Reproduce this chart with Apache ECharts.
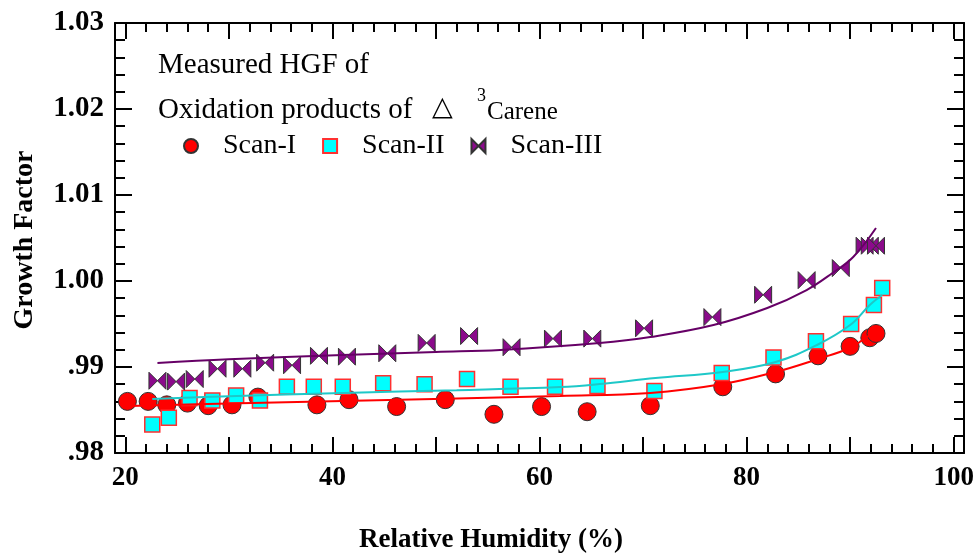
<!DOCTYPE html>
<html>
<head>
<meta charset="utf-8">
<script src="https://cdn.jsdelivr.net/npm/echarts@6/dist/echarts.min.js"></script>
<style>
html,body{margin:0;padding:0;background:#fff;}
#chart{width:978px;height:555px;}
</style>
</head>
<body>
<div id="chart"></div>
<script>
// ---- data ----
var scan1RH = [20.2, 22.2, 24.0, 26.0, 28.0, 30.3, 32.8, 38.5, 41.6, 46.2, 50.9, 55.6, 60.2, 64.6, 70.7, 77.7, 82.8, 86.9, 90.0, 91.9, 92.5];
var scan1GF = [0.9860, 0.9860, 0.9856, 0.9858, 0.9855, 0.9856, 0.9865, 0.9856, 0.9862, 0.9854, 0.9862, 0.9845, 0.9854, 0.9848, 0.9855, 0.9877, 0.9892, 0.9913, 0.9924, 0.9934, 0.9939];

var scan2RH = [22.6, 24.2, 26.2, 28.4, 30.7, 33.0, 35.6, 38.2, 41.0, 44.9, 48.9, 53.0, 57.2, 61.5, 65.6, 71.1, 77.6, 82.6, 86.7, 90.1, 92.3, 93.1];
var scan2GF = [0.9833, 0.9841, 0.9864, 0.9861, 0.9867, 0.9861, 0.9877, 0.9877, 0.9877, 0.9881, 0.9880, 0.9886, 0.9877, 0.9877, 0.9878, 0.9872, 0.9893, 0.9911, 0.9930, 0.9950, 0.9972, 0.9992];

var scan3RH = [23.1, 24.9, 26.7, 28.9, 31.3, 33.5, 36.1, 38.7, 41.4, 45.3, 49.1, 53.2, 57.3, 61.3, 65.1, 70.1, 76.7, 81.6, 85.8, 89.1, 91.4, 91.9, 92.5];
var scan3GF = [0.9884, 0.9883, 0.9886, 0.9898, 0.9898, 0.9905, 0.9902, 0.9913, 0.9912, 0.9916, 0.9928, 0.9936, 0.9923, 0.9933, 0.9933, 0.9945, 0.9958, 0.9984, 1.0001, 1.0015, 1.0041, 1.0041, 1.0041];

// fitted curves
var fit1RH = [20.4, 30.0, 41.0, 52.0, 62.0, 70.7, 77.7, 82.8, 86.9, 90.0, 91.2, 91.9];
var fit1GF = [0.98547, 0.98575, 0.98605, 0.98635, 0.98663, 0.98698, 0.98802, 0.98942, 0.99093, 0.99221, 0.99314, 0.99372];

var fit2RH = [22.6, 30.0, 41.0, 52.0, 62.0, 65.8, 71.2, 77.7, 82.8, 86.8, 90.0, 91.9, 93.1];
var fit2GF = [0.98628, 0.98660, 0.98698, 0.98730, 0.98767, 0.98802, 0.98872, 0.98942, 0.99058, 0.99256, 0.99488, 0.99721, 0.99837];

var fit3RH = [23.1, 30.0, 41.0, 50.0, 56.2, 65.8, 70.7, 76.8, 82.0, 85.8, 88.3, 90.3, 92.5];
var fit3GF = [0.99047, 0.99090, 0.99140, 0.99175, 0.99198, 0.99279, 0.99349, 0.99488, 0.99686, 0.99895, 1.00093, 1.00279, 1.00616];

var seriesNames = ['Scan-I', 'Scan-II', 'Scan-III'];
var xLabelValues = [20, 40, 60, 80, 100];
var xMajorTicks = [20, 30, 40, 50, 60, 70, 80, 90, 100];
var yLabelValues = [0.98, 0.99, 1.00, 1.01, 1.02, 1.03];
var yMajorTicks = [0.98, 0.99, 1.00, 1.01, 1.02, 1.03];

// minor tick positions
var xMinorTicks = [];
for (var i = 20; i <= 100; i += 2) xMinorTicks.push(i);
var yMinorTicks = [];
for (var j = 0; j <= 25; j++) yMinorTicks.push(+(0.98 + j * 0.002).toFixed(3));

function pairs(a, b) { return a.map(function (v, k) { return [v, b[k]]; }); }

var serif = '"Liberation Serif", "Times New Roman", serif';
var bowtie = 'path://M0,0 L10,10 L0,20 Z M20,0 L10,10 L20,20 Z';

function xAx(pos, ticks, len, showLine, showLabel) {
  return {
    type: 'value', position: pos, min: 19, max: 101,
    axisLine: { show: showLine, onZero: false, lineStyle: { color: '#000', width: 2 } },
    axisTick: { show: true, inside: true, length: len, customValues: ticks, lineStyle: { color: '#000', width: 2 } },
    axisLabel: showLabel ? {
      show: true, customValues: xLabelValues, margin: 12,
      fontFamily: serif, fontWeight: 'bold', fontSize: 27, color: '#000'
    } : { show: false },
    splitLine: { show: false }
  };
}
function yAx(pos, ticks, len, showLine, showLabel) {
  return {
    type: 'value', position: pos, min: 0.98, max: 1.03,
    axisLine: { show: showLine, onZero: false, lineStyle: { color: '#000', width: 2 } },
    axisTick: { show: true, inside: true, length: len, customValues: ticks, lineStyle: { color: '#000', width: 2 } },
    axisLabel: showLabel ? {
      show: true, customValues: yLabelValues, margin: 11,
      fontFamily: serif, fontWeight: 'bold', fontSize: 29, color: '#000',
      formatter: function (v) { var s = v.toFixed(2); return v < 1 ? s.slice(1) : s; }
    } : { show: false },
    splitLine: { show: false }
  };
}

var chart = echarts.init(document.getElementById('chart'), null, { renderer: 'canvas' });
chart.setOption({
  backgroundColor: '#fff',
  animation: false,
  grid: { left: 115, right: 14, top: 23, bottom: 102 },
  xAxis: [
    xAx('bottom', xMajorTicks, 16, true, true),
    xAx('bottom', xMinorTicks, 9, false, false),
    xAx('top', xMajorTicks, 16, true, false),
    xAx('top', xMinorTicks, 9, false, false)
  ],
  yAxis: [
    yAx('left', yMajorTicks, 17, true, true),
    yAx('left', yMinorTicks, 10, false, false),
    yAx('right', yMajorTicks, 17, true, false),
    yAx('right', yMinorTicks, 10, false, false)
  ],
  legend: {
    data: seriesNames,
    left: 183, top: 132, padding: 0,
    itemWidth: 14, itemHeight: 14, itemGap: 26,
    textStyle: { fontFamily: serif, fontSize: 28, color: '#000', padding: [0, 0, 0, 20] },
    selectedMode: false
  },
  graphic: [
    { type: 'text', left: 158, top: 51, style: { text: 'Measured HGF of', font: '29px ' + serif, fill: '#000' } },
    { type: 'text', left: 158, top: 96, style: { text: 'Oxidation products of', font: '29px ' + serif, fill: '#000' } },
    { type: 'text', left: 432, top: 94, style: { text: '\u25B3', font: '27px "DejaVu Sans"', fill: '#000' } },
    { type: 'text', left: 477, top: 87, style: { text: '3', font: '18px ' + serif, fill: '#000' } },
    { type: 'text', left: 487, top: 100, style: { text: 'Carene', font: '25px ' + serif, fill: '#000' } },
    { type: 'text', x: 491, y: 540, style: { text: 'Relative Humidity (%)', font: 'bold 27px ' + serif, fill: '#000', align: 'center', verticalAlign: 'middle' } },
    { type: 'text', x: 25, y: 240, rotation: Math.PI / 2, style: { text: 'Growth Factor', font: 'bold 28px ' + serif, fill: '#000', align: 'center', verticalAlign: 'middle' } }
  ],
  series: [
    {
      name: 'Scan-I', type: 'scatter', z: 2, symbol: 'circle', symbolSize: 18, symbolKeepAspect: true,
      itemStyle: { color: '#ff0000', borderColor: '#333', borderWidth: 1, opacity: 1 },
      data: pairs(scan1RH, scan1GF)
    },
    {
      name: 'Scan-II', type: 'scatter', z: 2, symbol: 'rect', symbolSize: 15, symbolKeepAspect: true,
      itemStyle: { color: '#00ffff', borderColor: '#ff3030', borderWidth: 1.5, opacity: 1 },
      data: pairs(scan2RH, scan2GF)
    },
    {
      name: 'Scan-III', type: 'scatter', z: 2, symbol: bowtie, symbolSize: [17, 17], symbolKeepAspect: true,
      itemStyle: { color: '#8b0a8b', borderColor: '#333', borderWidth: 1, opacity: 1 },
      data: pairs(scan3RH, scan3GF)
    },
    {
      type: 'line', z: 3, smooth: 0.4, symbol: 'none', silent: true,
      lineStyle: { color: '#ff0000', width: 2 },
      data: pairs(fit1RH, fit1GF)
    },
    {
      type: 'line', z: 3, smooth: 0.4, symbol: 'none', silent: true,
      lineStyle: { color: '#1ec8c8', width: 2 },
      data: pairs(fit2RH, fit2GF)
    },
    {
      type: 'line', z: 3, smooth: 0.4, symbol: 'none', silent: true,
      lineStyle: { color: '#660066', width: 2 },
      data: pairs(fit3RH, fit3GF)
    }
  ]
});
</script>
</body>
</html>
